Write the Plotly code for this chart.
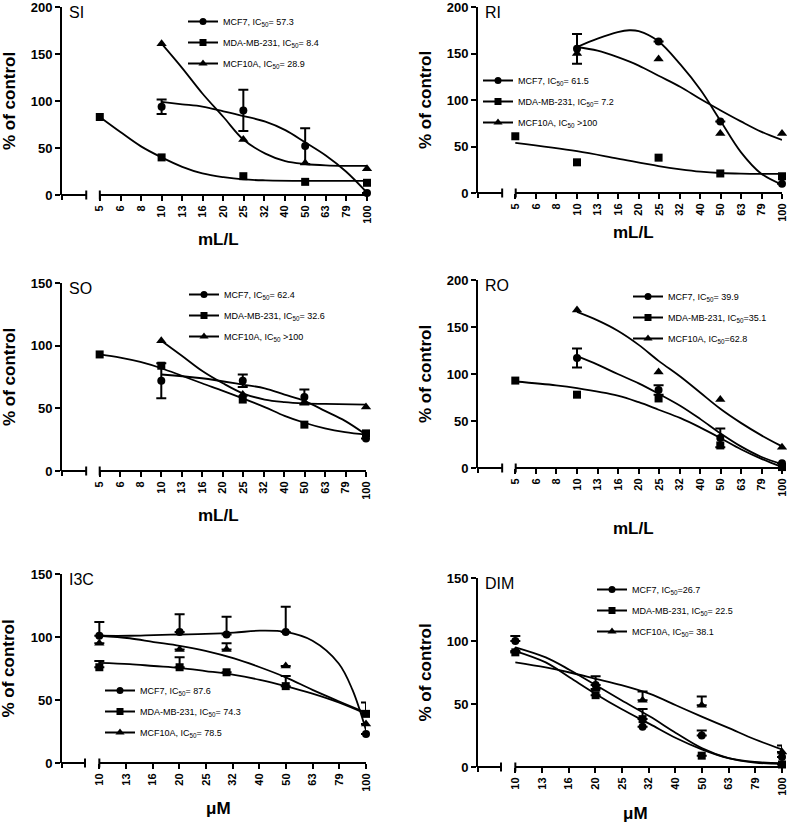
import plotly.graph_objects as go

W, H = 787, 823
FONT = "Liberation Sans, Arial, sans-serif"


def px(x):
    return x / W


def py(y):
    return 1 - y / H


def clamp(v):
    return max(0.0, min(1.0, v))


# ---------------- tick labels ----------------
TICKS_ML = [5, 6.31, 7.94, 10, 12.59, 15.85, 19.95, 25.12, 31.62, 39.81, 50.12, 63.10, 79.43, 100]
TEXT_ML = ["5", "6", "8", "10", "13", "16", "20", "25", "32", "40", "50", "63", "79", "100"]
TICKS_UM = [10, 12.59, 15.85, 19.95, 25.12, 31.62, 39.81, 50.12, 63.10, 79.43, 100]
TEXT_UM = ["10", "13", "16", "20", "25", "32", "40", "50", "63", "79", "100"]

# ---------------- SI ----------------
SI_MCF7_X = [10, 25, 50, 100]
SI_MCF7_Y = [94, 90, 52, 2]
SI_MCF7_ERR = [7.7, 22, 19, 0]
SI_MDA_X = [5, 10, 25, 50, 100]
SI_MDA_Y = [83, 40, 20, 14, 13]
SI_10A_X = [10, 25, 50, 100]
SI_10A_Y = [161, 59, 34, 28]
SI_FIT_MCF7_X = [10, 12.6, 15.8, 20, 25, 32, 40, 50, 63, 79, 100]
SI_FIT_MCF7_Y = [99, 96.5, 94, 89, 84, 78, 69, 56, 42, 25, 2.5]
SI_FIT_10A_X = [10, 12.6, 15.8, 20, 25, 32, 40, 50, 63, 79, 100]
SI_FIT_10A_Y = [161, 135, 108, 83, 59, 44, 36, 33, 31.5, 31, 31]
SI_FIT_MDA_X = [5, 6.3, 7.9, 10, 12.6, 15.8, 20, 25, 32, 50, 100]
SI_FIT_MDA_Y = [83, 67, 52, 40, 30, 23, 19, 16.6, 15.6, 15, 15]

# ---------------- RI ----------------
RI_MCF7_X = [10, 25, 50, 100]
RI_MCF7_Y = [155, 163, 77, 10]
RI_MCF7_ERR = [16, 0, 0, 0]
RI_MDA_X = [5, 10, 25, 50, 100]
RI_MDA_Y = [61, 33, 38, 21, 18]
RI_10A_X = [10, 25, 50, 100]
RI_10A_Y = [150, 144, 64, 64]
RI_FIT_MCF7_X = [10, 12.6, 15.8, 18, 20, 25, 32, 40, 50, 63, 79, 100]
RI_FIT_MCF7_Y = [157, 166, 173, 175, 174, 163, 138, 111, 78, 44, 21, 9]
RI_FIT_10A_X = [10, 12.6, 15.8, 20, 25, 32, 40, 50, 63, 79, 100]
RI_FIT_10A_Y = [157, 153, 146, 137, 126, 114, 101, 89, 77, 66, 57]
RI_FIT_MDA_X = [5, 10, 15.8, 25, 32, 40, 50, 63, 100]
RI_FIT_MDA_Y = [54, 45, 37, 29, 25.5, 23, 21.5, 20.8, 20.5]

# ---------------- SO ----------------
SO_MCF7_X = [10, 25, 50, 100]
SO_MCF7_Y = [72, 72, 59, 26]
SO_MCF7_ERR = [14, 5, 6, 0]
SO_MDA_X = [5, 10, 25, 50, 100]
SO_MDA_Y = [93, 84, 57, 37, 30]
SO_10A_X = [10, 25, 50, 100]
SO_10A_Y = [104, 61, 55, 51]
SO_FIT_MCF7_X = [10, 15.8, 25, 32, 40, 50, 63, 79, 100]
SO_FIT_MCF7_Y = [77, 74, 69, 66, 61, 56, 48, 40, 29]
SO_FIT_10A_X = [10, 12.6, 15.8, 20, 25, 32, 40, 50, 63, 100]
SO_FIT_10A_Y = [104, 92, 80, 70, 62, 57, 55, 54, 53.5, 53]
SO_FIT_MDA_X = [5, 6.3, 7.9, 10, 12.6, 15.8, 20, 25, 32, 40, 50, 63, 79, 100]
SO_FIT_MDA_Y = [93, 90.5, 87, 82, 76, 70, 64, 58, 51, 44, 38.5, 34, 31, 29]

# ---------------- RO ----------------
RO_MCF7_X = [10, 25, 50, 100]
RO_MCF7_Y = [117, 83, 32, 5]
RO_MCF7_ERR = [10, 5, 10, 0]
RO_MDA_X = [5, 10, 25, 50, 100]
RO_MDA_Y = [93, 78, 74, 24, 1]
RO_10A_X = [10, 25, 50, 100]
RO_10A_Y = [168, 102, 73, 22]
RO_FIT_X = [10, 12.6, 15.8, 20, 25, 32, 40, 50, 63, 79, 100]
RO_FIT_MCF7_Y = [119, 110, 100, 90, 79, 66, 52, 37, 23, 12, 4]
RO_FIT_10A_Y = [166, 157, 146, 131, 114, 97, 80, 63, 48, 35, 23]
RO_FIT_MDA_X = [5, 7.9, 10, 15.8, 20, 25, 32, 40, 50, 63, 79, 100]
RO_FIT_MDA_Y = [92, 88, 85, 77, 70, 62, 53, 43, 32, 20, 10, 1]

# ---------------- I3C ----------------
I3C_X = [10, 20, 30, 50, 100]
I3C_MCF7_Y = [101, 104, 102, 104, 23]
I3C_MCF7_ERR = [11, 14, 14, 20, 0]
I3C_MDA_Y = [76, 76, 72, 61, 39]
I3C_MDA_ERR = [5, 8, 0, 8, 9]
I3C_10A_Y = [95, 90, 90, 77, 31]
I3C_10A_ERR = [0, 0, 5, 0, 0]
I3C_FIT_MCF7_X = [10, 13, 16, 20, 25, 32, 40, 50, 63, 79, 89, 100]
I3C_FIT_MCF7_Y = [101, 101, 101.5, 102, 102.5, 103.5, 105, 104, 97, 79, 58, 26]
I3C_FIT_X = [10, 13, 16, 20, 25, 32, 40, 50, 63, 79, 100]
I3C_FIT_10A_Y = [101, 99, 96, 93, 89, 83, 76, 68, 58, 49, 40]
I3C_FIT_MDA_Y = [79.5, 78.5, 77, 75.5, 73, 70, 66, 61, 55, 48, 39]

# ---------------- DIM ----------------
DIM_X = [10, 20, 30, 50, 100]
DIM_MCF7_Y = [100, 65, 32, 25, 8]
DIM_MCF7_ERR = [4, 7, 0, 4, 0]
DIM_MDA_Y = [91, 57, 38, 9, 2]
DIM_MDA_ERR = [0, 0, 8, 0, 0]
DIM_10A_Y = [92, 62, 53, 49, 12]
DIM_10A_ERR = [0, 0, 7, 7, 5]
DIM_FIT_X = [10, 13, 16, 20, 25, 32, 40, 50, 63, 79, 100]
DIM_FIT_MCF7_Y = [95, 87, 77, 65, 53, 40, 27, 15, 7, 3.5, 2.5]
DIM_FIT_MDA_Y = [92, 83, 71, 58, 46, 34, 23, 14, 7, 4, 3]
DIM_FIT_10A_Y = [83, 79, 75, 70, 65, 58, 49, 40, 31, 22, 14]

SERIES = ["MCF7", "MDA-MB-231", "MCF10A"]
SYMBOLS = ["circle", "square", "triangle-up"]
SIZES = [8, 8, 9]

panels = [
    dict(title="SI", unit="mL/L", ymax=200, box=(62, 367, 7, 195), ticks=(TICKS_ML, TEXT_ML), xr=(0.515, 2.0),
         brk=(0.0795, 0.124), leg=(223, 20), twoside=True,
         labels=["MCF7, IC<sub>50</sub>= 57.3", "MDA-MB-231, IC<sub>50</sub>= 8.4", "MCF10A, IC<sub>50</sub>= 28.9"],
         pts=[(SI_MCF7_X, SI_MCF7_Y, SI_MCF7_ERR), (SI_MDA_X, SI_MDA_Y, None), (SI_10A_X, SI_10A_Y, None)],
         fits=[(SI_FIT_MCF7_X, SI_FIT_MCF7_Y), (SI_FIT_MDA_X, SI_FIT_MDA_Y), (SI_FIT_10A_X, SI_FIT_10A_Y)],
         ytitle_x=9, xtitle=(218, 240)),
    dict(title="RI", unit="mL/L", ymax=200, box=(478, 782, 7, 193), ticks=(TICKS_ML, TEXT_ML), xr=(0.517, 2.0),
         brk=(0.0795, 0.124), leg=(518, 79), twoside=True,
         labels=["MCF7, IC<sub>50</sub>= 61.5", "MDA-MB-231, IC<sub>50</sub>= 7.2", "MCF10A, IC<sub>50</sub> >100"],
         pts=[(RI_MCF7_X, RI_MCF7_Y, RI_MCF7_ERR), (RI_MDA_X, RI_MDA_Y, None), (RI_10A_X, RI_10A_Y, None)],
         fits=[(RI_FIT_MCF7_X, RI_FIT_MCF7_Y), (RI_FIT_MDA_X, RI_FIT_MDA_Y), (RI_FIT_10A_X, RI_FIT_10A_Y)],
         ytitle_x=425, xtitle=(633, 232)),
    dict(title="SO", unit="mL/L", ymax=150, box=(62, 366, 283, 471), ticks=(TICKS_ML, TEXT_ML), xr=(0.515, 2.0),
         brk=(0.0795, 0.124), leg=(224, 293), twoside=True,
         labels=["MCF7, IC<sub>50</sub>= 62.4", "MDA-MB-231, IC<sub>50</sub>= 32.6", "MCF10A, IC<sub>50</sub> >100"],
         pts=[(SO_MCF7_X, SO_MCF7_Y, SO_MCF7_ERR), (SO_MDA_X, SO_MDA_Y, None), (SO_10A_X, SO_10A_Y, None)],
         fits=[(SO_FIT_MCF7_X, SO_FIT_MCF7_Y), (SO_FIT_MDA_X, SO_FIT_MDA_Y), (SO_FIT_10A_X, SO_FIT_10A_Y)],
         ytitle_x=9, xtitle=(218, 515)),
    dict(title="RO", unit="mL/L", ymax=200, box=(478, 782, 280, 468), ticks=(TICKS_ML, TEXT_ML), xr=(0.517, 2.0),
         brk=(0.0795, 0.124), leg=(668, 295), twoside=True,
         labels=["MCF7, IC<sub>50</sub>= 39.9", "MDA-MB-231, IC<sub>50</sub>=35.1", "MCF10A, IC<sub>50</sub>=62.8"],
         pts=[(RO_MCF7_X, RO_MCF7_Y, RO_MCF7_ERR), (RO_MDA_X, RO_MDA_Y, None), (RO_10A_X, RO_10A_Y, None)],
         fits=[(RO_FIT_X, RO_FIT_MCF7_Y), (RO_FIT_MDA_X, RO_FIT_MDA_Y), (RO_FIT_X, RO_FIT_10A_Y)],
         ytitle_x=425, xtitle=(633, 528)),
    dict(title="I3C", unit="\u03bcM", ymax=150, box=(62, 366, 574, 763), ticks=(TICKS_UM, TEXT_UM), xr=(0.86, 2.0),
         brk=(0.0757, 0.1228), leg=(140, 689), twoside=False,
         labels=["MCF7, IC<sub>50</sub>= 87.6", "MDA-MB-231, IC<sub>50</sub>= 74.3", "MCF10A, IC<sub>50</sub>= 78.5"],
         pts=[(I3C_X, I3C_MCF7_Y, I3C_MCF7_ERR), (I3C_X, I3C_MDA_Y, I3C_MDA_ERR), (I3C_X, I3C_10A_Y, I3C_10A_ERR)],
         fits=[(I3C_FIT_MCF7_X, I3C_FIT_MCF7_Y), (I3C_FIT_X, I3C_FIT_MDA_Y), (I3C_FIT_X, I3C_FIT_10A_Y)],
         ytitle_x=8, xtitle=(218, 808)),
    dict(title="DIM", unit="\u03bcM", ymax=150, box=(478, 782, 578, 767), ticks=(TICKS_UM, TEXT_UM), xr=(0.86, 2.0),
         brk=(0.0757, 0.1228), leg=(632, 588), twoside=False,
         labels=["MCF7, IC<sub>50</sub>=26.7", "MDA-MB-231, IC<sub>50</sub>= 22.5", "MCF10A, IC<sub>50</sub>= 38.1"],
         pts=[(DIM_X, DIM_MCF7_Y, DIM_MCF7_ERR), (DIM_X, DIM_MDA_Y, DIM_MDA_ERR), (DIM_X, DIM_10A_Y, DIM_10A_ERR)],
         fits=[(DIM_FIT_X, DIM_FIT_MCF7_Y), (DIM_FIT_X, DIM_FIT_MDA_Y), (DIM_FIT_X, DIM_FIT_10A_Y)],
         ytitle_x=425, xtitle=(635, 813)),
]

fig = go.Figure()
layout = dict(width=W, height=H, margin=dict(l=0, r=0, t=0, b=0, pad=0, autoexpand=False),
              paper_bgcolor="white", plot_bgcolor="white",
              font=dict(family=FONT, color="black"), showlegend=True)
shapes, annotations = [], []

for i, p in enumerate(panels):
    n = "" if i == 0 else str(i + 1)
    xa, ya = "x" + n, "y" + n
    lg = "legend" + n
    l, r, t, b = p["box"]
    layout["xaxis" + n] = dict(
        domain=[clamp(px(l)), clamp(px(r))], anchor=ya, type="log", range=list(p["xr"]),
        tickvals=p["ticks"][0], ticktext=p["ticks"][1], tickangle=-90,
        ticks="outside", ticklen=5, tickwidth=2, tickcolor="black",
        tickfont=dict(size=11, family=FONT, weight="bold"), ticklabeloverflow="allow",
        showline=False, showgrid=False, zeroline=False, automargin=False)
    layout["yaxis" + n] = dict(
        domain=[clamp(py(b)), clamp(py(t))], anchor=xa, range=[0, p["ymax"]],
        tickvals=list(range(0, p["ymax"] + 1, 50)),
        ticks="outside", ticklen=5, tickwidth=2, tickcolor="black",
        tickfont=dict(size=13, family=FONT, weight="bold"), ticklabeloverflow="allow",
        showline=True, linewidth=2, linecolor="black",
        showgrid=False, zeroline=False, automargin=False)

    # fitted curves
    for (fx, fy) in p["fits"]:
        fig.add_trace(go.Scatter(x=fx, y=fy, mode="lines", line=dict(color="black", width=1.8, shape="spline"),
                                 xaxis=xa, yaxis=ya, showlegend=False, hoverinfo="skip", cliponaxis=False))
    # data points
    for k, (px_, py_, pe) in enumerate(p["pts"]):
        err = None
        if pe is not None:
            if p["twoside"]:
                err = dict(type="data", array=pe, symmetric=True, color="black", thickness=2, width=5)
            else:
                err = dict(type="data", array=pe, arrayminus=[0] * len(pe), symmetric=False,
                           color="black", thickness=2, width=5)
        fig.add_trace(go.Scatter(x=px_, y=py_, mode="markers", error_y=err,
                                 marker=dict(symbol=SYMBOLS[k], size=SIZES[k], color="black"),
                                 xaxis=xa, yaxis=ya, showlegend=False, cliponaxis=False))
    # legend entries
    for k in range(3):
        fig.add_trace(go.Scatter(x=[None], y=[None], mode="lines+markers", name=p["labels"][k],
                                 marker=dict(symbol=SYMBOLS[k], size=SIZES[k] - 1, color="black"),
                                 line=dict(color="black", width=2), legend=lg, legendgroup=f"{i}_{k}",
                                 xaxis=xa, yaxis=ya))
    lx, ly = p["leg"]
    layout[lg] = dict(x=clamp(px(lx - 40)), y=clamp(py(ly - 13)), xanchor="left", yanchor="top",
                      bgcolor="rgba(0,0,0,0)", borderwidth=0, tracegroupgap=2,
                      font=dict(size=9, family=FONT, color="black"), itemwidth=30)

    # broken x axis drawn as decoration
    fl, fr = p["brk"]
    xd, yd = xa + " domain", ya + " domain"
    hgt = b - t
    dd = 4.5 / hgt
    line = dict(color="black", width=2)
    shapes += [
        dict(type="line", xref=xd, yref=yd, x0=0, x1=fl, y0=0, y1=0, line=line),
        dict(type="line", xref=xd, yref=yd, x0=fr, x1=1, y0=0, y1=0, line=line),
        dict(type="line", xref=xd, yref=yd, x0=fl, x1=fl, y0=-dd, y1=dd, line=line),
        dict(type="line", xref=xd, yref=yd, x0=fr, x1=fr, y0=-dd, y1=dd, line=line),
        dict(type="line", xref=xd, yref=yd, x0=0, x1=0, y0=-5 / hgt, y1=0, line=line),
    ]

    # panel title
    annotations.append(dict(text=p["title"], xref=xd, yref=yd, x=0.015, y=1.025, xanchor="left", yanchor="top",
                            showarrow=False, font=dict(size=16, family=FONT, color="black")))
    # axis titles
    annotations.append(dict(text="% of control", xref="paper", yref="paper", x=px(p["ytitle_x"]),
                            y=py((t + b) / 2), textangle=-90, showarrow=False,
                            xanchor="center", yanchor="middle",
                            font=dict(size=17, family=FONT, color="black", weight="bold")))
    tx, ty = p["xtitle"]
    annotations.append(dict(text=p["unit"], xref="paper", yref="paper", x=px(tx), y=py(ty),
                            showarrow=False, xanchor="center", yanchor="middle",
                            font=dict(size=17, family=FONT, color="black", weight="bold")))

layout["shapes"] = shapes
layout["annotations"] = annotations
fig.update_layout(**layout)
# remove the browser's default 8px body margin so the 787x823 figure fills the page exactly
fig.write_html("out.html", config={"displayModeBar": False},
               post_script="document.body.style.margin='0';document.body.style.overflow='hidden';")
